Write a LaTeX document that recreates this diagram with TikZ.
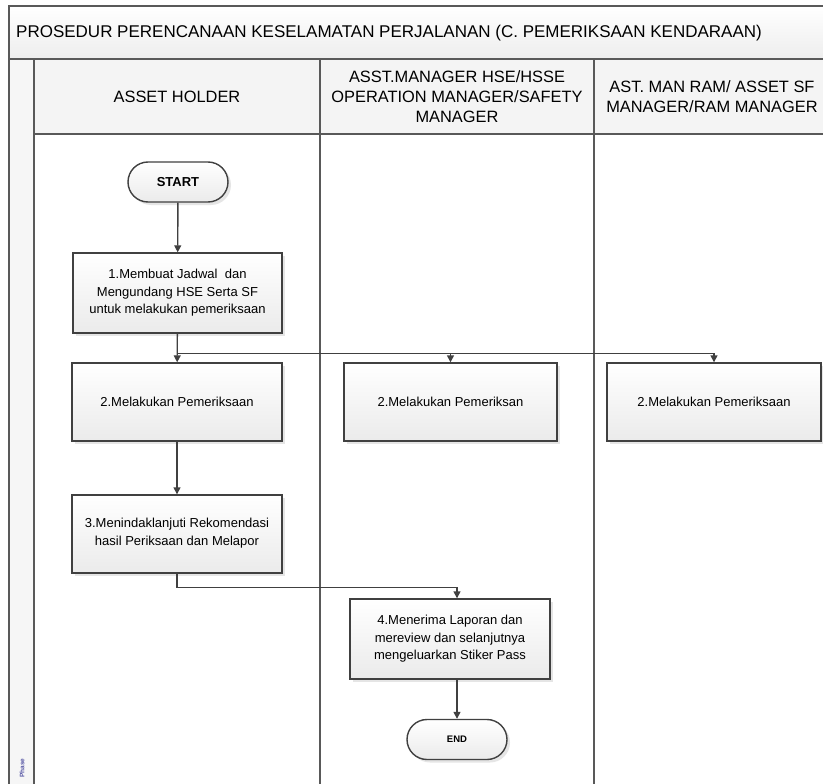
\documentclass[tikz,border=0pt]{standalone}
\usepackage{fontspec}
\setmainfont{Liberation Sans}
\usetikzlibrary{calc,arrows.meta,shadows}
\colorlet{linegray}{black!75}
\colorlet{framegray}{black!65}

\begin{document}
\begin{tikzpicture}[x=1pt,y=-1pt,
    frame/.style={draw=framegray,line width=1.8pt},
    box/.style={draw=linegray,line width=1.4pt,top color=white,bottom color=gray!16,
      drop shadow={shadow xshift=3pt,shadow yshift=-3pt,fill=gray!40,opacity=0.5},
      align=center,font=\fontsize{13}{17.5}\selectfont,inner sep=2pt},
    terminal/.style={box,rounded corners=20pt,minimum width=100pt,minimum height=40pt,
      font=\bfseries\fontsize{#1}{#1}\selectfont},
    task/.style={box,minimum width=#1,minimum height=78pt},
    task/.default=210pt,
    flow/.style={draw=linegray,line width=1.4pt,-{Triangle[width=7pt,length=7pt]}},
    lanehead/.style={align=center,font=\fontsize{16.4}{20}\selectfont}]
            % page
            \clip (0,0) rectangle (823,784);
            \fill[white] (0,0) rectangle (823,784);
            % coordinates
            \coordinate (pool) at (9,6); % pool top-left
            \coordinate (lanes) at (34,59); % lanes top-left
            % bands
            \shade[top color=white,bottom color=gray!14] (pool) rectangle (830,59);
            \fill[gray!9] (lanes) rectangle (830,134);
            \fill[gray!7] (9,59) rectangle (34,790);
            % frame and lanes
            \draw[frame] (9,790) -- (pool) -- (830,6);
            \draw[frame] (9,59) -- (830,59);
            \draw[frame] (lanes) -- (34,790);
            \draw[frame] (34,134) -- (830,134);
            \foreach \x in {320,594} {
                \draw[frame] (\x,59) -- (\x,790);
            }
            % title
            \node[anchor=west,inner sep=0pt,font=\fontsize{17}{20}\selectfont] (title) at (16,33)
                {PROSEDUR PERENCANAAN KESELAMATAN PERJALANAN (C. PEMERIKSAAN KENDARAAN)};
            % lane headers
            \node[lanehead] (holder) at (177,97) {ASSET HOLDER};
            \node[lanehead] (hse) at (457,97) {ASST.MANAGER HSE/HSSE\\OPERATION MANAGER/SAFETY\\MANAGER};
            \node[lanehead] (ram) at (712,97) {AST. MAN RAM/ ASSET SF\\MANAGER/RAM MANAGER};
            % phase label
            \node[rotate=90,inner sep=0pt,text=blue!30!gray,font=\bfseries\fontsize{6.5}{6.5}\selectfont] (phase) at (22,768) {Phase};
            % steps
            \node[terminal=13] (start) at (178,182) {START};
            \node[task=209pt,minimum height=80pt] (step1) at (177.5,293)
                {1.Membuat Jadwal\ \ dan\\Mengundang HSE Serta SF\\untuk melakukan pemeriksaan};
            \node[task] (check1) at (177,402) {2.Melakukan Pemeriksaan};
            \node[task=213pt] (check2) at (450.5,402) {2.Melakukan Pemeriksan};
            \node[task=214pt] (check3) at (714,402) {2.Melakukan Pemeriksaan};
            \node[task,text depth=4pt] (follow) at (177,534) {3.Menindaklanjuti Rekomendasi\\hasil Periksaan dan Melapor};
            \node[task=200pt,minimum height=80pt] (review) at (450,639)
                {4.Menerima Laporan dan\\mereview dan selanjutnya\\mengeluarkan Stiker Pass};
            \node[terminal=9.5] (finish) at (457,739.5) {END};
            % split and join points
            \coordinate (split) at ($(step1.south)+(0,20)$);
            \coordinate (join) at ($(follow.south)+(0,14)$);
            % connectors
            \draw[flow] (start) -- (step1);
            \draw[flow] (step1) -- (check1);
            \draw[flow] (split) -| (check2.north);
            \draw[flow] (split) -| (check3.north);
            \draw[flow] (check1) -- (follow);
            \draw[flow] (follow) |- (join -| finish) -- (finish |- review.north);
            \draw[flow] (finish |- review.south) -- (finish);
        \end{tikzpicture}
\end{document}
